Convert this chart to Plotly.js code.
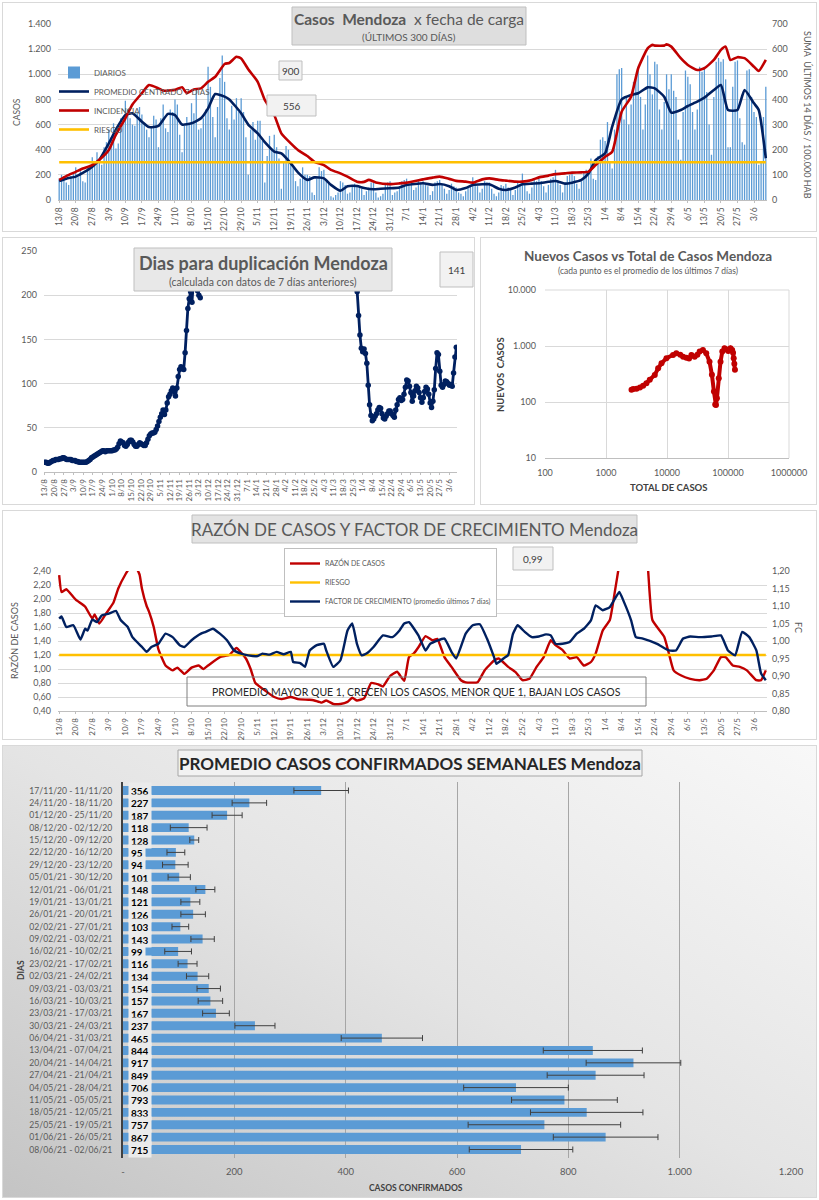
<!DOCTYPE html>
<html><head><meta charset="utf-8">
<script src="https://cdn.plot.ly/plotly-3.0.1.min.js"></script>
<style>
body{margin:0;background:#fff;width:819px;height:1200px;position:relative;overflow:hidden;font-family:Lato,sans-serif}
.bd{position:absolute;box-sizing:border-box;border:1px solid #d9d9d9;}
.pl{position:absolute;}
</style></head><body>
<div class="bd" style="left:2px;top:2px;width:815px;height:230px"></div>
<div class="bd" style="left:2px;top:237px;width:473px;height:268px"></div>
<div class="bd" style="left:480px;top:237px;width:337px;height:268px"></div>
<div class="bd" style="left:2px;top:510px;width:815px;height:230px"></div>
<div class="bd" style="left:2px;top:745px;width:815px;height:453px;background:linear-gradient(to bottom left,#f8f8f8 0%,#e4e4e4 50%,#c4c4c4 100%)"></div>
<div id="c1" class="pl" style="left:2px;top:2px;width:815px;height:230px"></div>
<div id="c2" class="pl" style="left:2px;top:237px;width:473px;height:268px"></div>
<div id="c3" class="pl" style="left:480px;top:237px;width:337px;height:268px"></div>
<div id="c4" class="pl" style="left:2px;top:510px;width:815px;height:230px"></div>
<div id="c5" class="pl" style="left:2px;top:745px;width:815px;height:453px"></div>
<script>
// ---------------- DATA ----------------
const fechasTicks = ['13/8','20/8','27/8','3/9','10/9','17/9','24/9','1/10','8/10','15/10','22/10','29/10','5/11','12/11','19/11','26/11','3/12','10/12','17/12','24/12','31/12','7/1','14/1','21/1','28/1','4/2','11/2','18/2','25/2','4/3','11/3','18/3','25/3','1/4','8/4','15/4','22/4','29/4','6/5','13/5','20/5','27/5','3/6'];

// casos diarios (13/8/2020 .. 8/6/2021)
const diarios = [
170,200,190,140,120,190,210, 260,180,230,150,140,270,250, 340,300,380,310,280,420,460,
560,500,610,410,450,650,620, 790,720,650,600,590,700,740, 680,610,560,500,580,670,640,
420,650,760,570,540,720,700, 800,760,520,380,590,660,600, 770,690,880,560,570,650,720,
1060,900,660,500,740,970,1150, 940,650,560,750,640,810,700, 810,700,500,200,560,620,480,
630,630,470,140,350,510,400, 520,420,330,90,300,430,400, 310,260,150,110,170,260,200,
200,190,60,40,170,260,230, 240,150,130,30,20,40,60, 150,140,120,50,60,110,130,
120,110,90,40,70,100,140, 140,60,20,30,50,120,140, 150,40,60,70,110,150,160,
170,150,120,80,100,160,140, 150,120,110,40,70,140,150, 160,130,90,50,80,130,110,
100,60,50,30,70,100,120, 180,140,110,60,90,150,140, 140,90,50,30,60,120,110,
130,100,80,40,80,140,120, 210,120,70,50,100,160,150, 170,150,110,60,120,170,180,
240,160,120,60,140,190,200, 220,190,130,90,150,230,240, 240,330,170,160,350,480,500,
470,620,300,250,560,1000,1040, 1050,640,820,600,760,940,960, 1060,820,560,760,1150,1000,840,
1100,1080,720,560,780,1000,880, 1000,870,820,480,320,700,1030, 980,920,700,560,720,1060,1020,
1060,860,600,360,820,1100,1130, 1100,1120,960,420,420,900,1100, 1110,650,460,440,1030,1040,820,
700,660,280,300,660,900];

// promedio centrado 7 dias (dia desde 13/8, casos)
const promDia = [0,3,7,10,14,17,21,24,28,31,35,38,42,46,49,52,56,60,63,66,70,72,77,80,84,87,91,94,98,101,105,108,112,115,119,122,126,129,133,136,140,144,147,154,158,161,165,168,172,175,179,182,186,189,193,196,200,203,207,210,214,217,221,224,227,231,234,238,242,245,249,252,256,259,263,266,270,273,277,280,283,287,290,294,296,299];
const promVal = [150,170,186,215,265,320,450,560,676,690,623,580,589,685,676,600,610,650,729,843,822,800,690,600,530,460,385,370,292,220,160,180,172,120,74,110,111,95,85,90,93,100,119,133,120,127,110,80,95,119,125,125,90,80,100,125,130,133,145,151,130,138,160,212,318,371,583,801,835,849,896,888,822,695,716,748,782,814,875,915,716,716,875,769,716,332];

// incidencia: suma ultimos 14 dias / 100.000 hab
const incDia = [0,3,7,10,14,17,21,24,28,31,35,38,42,44,49,52,54,57,60,63,66,70,72,75,77,80,84,87,91,94,98,101,105,108,112,115,119,122,126,129,131,134,140,144,147,154,158,161,165,168,172,175,179,182,186,189,193,196,200,203,207,210,214,217,221,224,227,231,234,238,242,245,249,251,252,256,257,259,263,266,270,273,277,280,282,284,287,290,294,296,299];
const incVal = [80,95,112,125,139,160,199,260,325,380,425,457,444,435,438,448,425,440,444,470,490,541,545,570,563,520,470,398,338,265,225,199,175,152,139,120,106,93,73,72,80,70,63,66,69,82,89,93,84,76,73,69,82,86,80,77,73,73,80,90,97,103,106,109,110,113,139,172,192,351,411,524,603,617,614,614,619,610,564,537,517,524,557,597,610,557,568,564,530,513,557];
const riesgoIncidencia = 150;
const ultimaIncidencia = 556, valor900 = 900;

// dias para duplicacion
const dupInicio1 = 0;
const dupTramo1 = [11,11,10,10,11,12,13, 13,14,14,14,15,15,16, 16,15,14,14,14,14,13, 13,13,12,12,11,11,11,
11,11,11,12,13,14,16, 17,18,19,20,21,22,23, 24,24,23,24,24,24,24, 24,25,25,26,28,32,35,
34,33,30,29,31,34,36, 36,34,31,29,29,31,33, 32,31,30,30,33,37,41, 43,44,44,45,48,52,57,
62,66,70,65,70,78,85, 88,92,95,91,86,95,108, 116,119,117,116,135,160,185, 196,204,192,215,225,215,205, 200,197];
const dupInicio2 = 227;
const dupTramo2 = [204,177,155,140,136,139,134, 123,98,76,64,58,60,63, 66,70,73,72,66,61,60, 63,66,69,69,66,64,62,
70,76,82,84,81,82,88, 96,104,103,97,90,80,86, 92,97,95,90,84,79,84, 91,96,94,88,78,73,80,
93,117,135,133,114,98,96, 99,103,102,100,98,99,97, 112,130,141];
const dupUltimo = 141;

// nuevos casos vs total de casos (promedio 7 dias)
const totalCasos = [2620,2800,3170,3600,4060,4600,5220,6300,7160,8130,9800,12560,14200,16500,18360,20800,23000,25140,28400,31500,34300,38800,44000,49800,54500,58800,61700,63500,65800,70600,75400,80700,87700,95000,101000,110000,117000,121000,124000,127000,130000];
const nuevosCasos = [165,170,172,181,195,217,250,305,400,490,606,693,740,700,645,620,600,693,645,700,800,852,740,525,306,154,90,88,117,265,525,800,914,870,818,914,852,760,606,480,375];

// razon de casos y factor de crecimiento
const razonDia = [0,1,3,7,11,14,15,17,20,23,25,28,30,32,34,35,37,38,40,42,45,48,50,53,56,59,61,63,68,72,75,79,81,83,86,91,94,98,101,106,108,111,113,116,119,122,124,126,129,132,135,137,140,143,146,148,150,152,155,158,160,163,166,170,172,177,180,184,186,190,193,196,199,202,205,208,210,213,216,219,222,225,227,230,233,235,237,239,243,247,249,251,256,258,260,263,267,271,274,277,280,282,285,288,291,295,297,299];
const razonVal = [2.34,2.10,2.14,1.99,1.89,1.72,1.78,1.65,1.80,1.95,2.15,2.35,2.45,2.48,2.35,2.15,1.90,1.82,1.60,1.28,1.05,0.98,1.02,0.93,1.02,1.05,1.00,1.05,1.17,1.20,1.30,1.15,1.00,0.80,0.72,0.60,0.57,0.60,0.57,0.56,0.55,0.52,0.55,0.50,0.50,0.53,0.59,0.55,0.58,0.80,0.78,0.75,0.90,0.96,0.83,1.17,1.22,1.31,1.47,1.41,1.43,1.17,1.03,0.84,0.81,0.81,0.98,1.12,1.15,1.03,0.96,0.84,0.86,1.03,1.17,1.41,1.34,1.27,1.15,1.17,1.05,1.10,1.22,1.55,1.70,2.08,2.50,3.0,3.5,3.0,2.50,1.70,1.46,1.22,0.98,0.91,0.86,0.84,0.86,0.98,1.17,1.17,1.05,1.03,0.98,0.84,0.84,0.98];
const fcDia = [0,1,3,6,9,11,12,14,16,18,21,24,26,29,31,35,37,39,42,45,48,51,53,56,60,62,65,68,71,74,77,80,84,86,89,92,95,98,99,102,104,106,109,112,113,116,119,122,124,126,128,130,133,137,141,144,146,148,152,155,157,163,166,168,172,175,178,181,184,185,188,190,192,194,197,200,203,206,208,210,213,216,219,222,225,227,230,233,237,239,242,244,247,253,258,261,264,267,271,276,280,283,286,289,292,295,297,299];
const fcVal = [1.064,1.07,1.04,1.045,1.004,1.035,1.03,1.061,1.054,1.073,1.078,1.086,1.06,1.04,1.011,0.983,0.969,0.983,0.992,1.021,1.011,0.988,0.983,1.002,1.021,1.026,1.035,1.021,1.002,0.973,0.964,0.959,0.957,0.964,0.961,0.969,0.962,0.969,0.94,0.937,0.926,0.973,0.988,0.992,0.973,0.926,0.945,1.03,1.05,0.992,0.959,0.964,0.983,1.016,1.011,1.03,1.05,1.054,1.016,0.973,0.992,1.007,0.969,0.95,1.021,1.045,1.048,1.007,0.954,0.935,0.95,0.96,1.02,1.045,1.026,1.011,1.013,1.019,1.016,0.992,0.992,0.997,1.021,1.035,1.059,1.102,1.088,1.097,1.14,1.111,1.059,1.011,1.007,0.992,0.973,0.973,1.007,1.013,1.011,1.013,1.016,0.973,0.959,1.026,1.011,0.973,0.907,0.888];
const riesgoRazon = 1.20;
const fcUltimo = '0,99';

// promedio casos confirmados semanales
const semanas = ['17/11/20 - 11/11/20','24/11/20 - 18/11/20','01/12/20 - 25/11/20','08/12/20 - 02/12/20','15/12/20 - 09/12/20','22/12/20 - 16/12/20','29/12/20 - 23/12/20','05/01/21 - 30/12/20','12/01/21 - 06/01/21','19/01/21 - 13/01/21','26/01/21 - 20/01/21','02/02/21 - 27/01/21','09/02/21 - 03/02/21','16/02/21 - 10/02/21','23/02/21 - 17/02/21','02/03/21 - 24/02/21','09/03/21 - 03/03/21','16/03/21 - 10/03/21','23/03/21 - 17/03/21','30/03/21 - 24/03/21','06/04/21 - 31/03/21','13/04/21 - 07/04/21','20/04/21 - 14/04/21','27/04/21 - 21/04/21','04/05/21 - 28/04/21','11/05/21 - 05/05/21','18/05/21 - 12/05/21','25/05/21 - 19/05/21','01/06/21 - 26/05/21','08/06/21 - 02/06/21'];
const promedios = [356,227,187,118,128,95,94,101,148,121,126,103,143,99,116,134,154,157,167,237,465,844,917,849,706,793,833,757,867,715];
const errores = [49,31,27,33,8,16,23,20,17,17,22,15,21,24,17,20,21,22,24,36,73,89,85,87,94,95,101,137,94,93];
const barTickVals = [0,200,400,600,800,1000,1200];
const barTickText = ['-','200','400','600','800','1.000','1.200'];

// ---------------- HELPERS ----------------
const F = 'Lato, "Liberation Sans", sans-serif';
const GRAY = '#595959', GRID = '#d9d9d9';
const NAVY = '#002060', RED = '#c00000', YEL = '#ffc000', BLUE = '#5b9bd5';
function P(left, top, w, h, l, r, t, b){ return {left, top, w, h, l, r, t, b, pw: w-l-r, ph: h-t-b}; }
function px(p, X){ return (X - p.left - p.l)/p.pw; }
function py(p, Y){ return 1 - (Y - p.top - p.t)/p.ph; }
function box(p, x0, y0, x1, y1, fill, line){
  return {type:'rect', xref:'paper', yref:'paper', x0:px(p,x0), x1:px(p,x1), y0:py(p,y1), y1:py(p,y0),
    fillcolor:fill, line:{color:line||'#bfbfbf', width:1}, layer:'above'};
}
function txt(p, X, Y, text, size, color, extra){
  return Object.assign({xref:'paper', yref:'paper', x:px(p,X), y:py(p,Y), text:text, showarrow:false,
    font:{family:F, size:size, color:color||GRAY}, xanchor:'center', yanchor:'middle'}, extra||{});
}
function baseLayout(p){
  return {width:p.w, height:p.h, margin:{l:p.l, r:p.r, t:p.t, b:p.b, pad:0},
    paper_bgcolor:'rgba(0,0,0,0)', plot_bgcolor:'rgba(0,0,0,0)', separators:',.',
    font:{family:F, color:GRAY, size:9}, showlegend:false};
}
const cfg = {staticPlot:true, displayModeBar:false};
const tickVals = fechasTicks.map((_, i) => i*7);
const dias = diarios.map((_, i) => i);
const nDias = diarios.length;
function dateAxis(size){
  return {range:[-0.5, nDias-0.5], tickmode:'array', tickvals:tickVals, ticktext:fechasTicks, tickangle:-90,
    tickfont:{size:size, color:GRAY}, showgrid:false, zeroline:false, showline:true, linecolor:'#bfbfbf',
    ticks:'outside', ticklen:2, tickcolor:'#bfbfbf', ticklabelstandoff:1, fixedrange:true};
}

// ---------------- PANEL 1 ----------------
{
  const p = P(2, 2, 815, 230, 56, 50, 22, 32);
  const traces = [
    {type:'bar', x:dias, y:diarios, name:'DIARIOS', marker:{color:BLUE}, width:0.55},
    {type:'scatter', mode:'lines', x:promDia, y:promVal, name:'PROMEDIO CENTRADO 7 DÍAS', line:{color:NAVY, width:2.6, shape:'spline', smoothing:0.5}},
    {type:'scatter', mode:'lines', x:incDia, y:incVal, yaxis:'y2', name:'INCIDENCIA', line:{color:RED, width:2.6, shape:'spline', smoothing:0.5}},
    {type:'scatter', mode:'lines', x:[0, nDias-1], y:[riesgoIncidencia, riesgoIncidencia], yaxis:'y2', name:'RIESGO', line:{color:YEL, width:2.6}}
  ];
  const L = baseLayout(p);
  L.showlegend = true;
  L.legend = {x:px(p,54), y:py(p,58), xanchor:'left', yanchor:'top', bgcolor:'rgba(0,0,0,0)', font:{size:8, color:GRAY}, itemwidth:30, tracegroupgap:0};
  L.bargap = 0.4;
  L.xaxis = dateAxis(8.5);
  L.yaxis = {range:[0,1400], dtick:200, tickformat:',d', gridcolor:GRID, zeroline:false, tickfont:{size:9, color:GRAY}, ticklabelstandoff:6, fixedrange:true};
  L.yaxis2 = {range:[0,700], dtick:100, overlaying:'y', side:'right', showgrid:false, zeroline:false, tickfont:{size:9, color:GRAY}, ticklabelstandoff:4, fixedrange:true};
  L.shapes = [
    box(p, 292, 7, 526, 45, '#dedede'),
    box(p, 279, 61, 302, 80, '#f2f2f2'),
    box(p, 267, 95, 316, 116, '#f2f2f2')
  ];
  L.annotations = [
    txt(p, 409, 19, '<b>Casos  Mendoza</b>  x fecha de carga', 15.5, GRAY),
    txt(p, 409, 37, '(ÚLTIMOS 300 DÍAS)', 10, GRAY),
    txt(p, 290.5, 70.5, String(valor900), 10, '#404040'),
    txt(p, 291.5, 105.5, String(ultimaIncidencia), 10, '#404040'),
    txt(p, 17, 112, 'CASOS', 8.5, GRAY, {textangle:-90}),
    txt(p, 808, 115, 'SUMA  ÚLTIMOS 14 DÍAS / 100.000 HAB', 9, GRAY, {textangle:90})
  ];
  Plotly.newPlot('c1', traces, L, cfg);
}

// ---------------- PANEL 2 ----------------
{
  const p = P(2, 237, 473, 268, 42, 18, 14, 33);
  const st = {type:'scatter', mode:'lines+markers', line:{color:NAVY, width:2.8}, marker:{color:NAVY, size:5.5}};
  const traces = [
    Object.assign({}, st, {x:dupTramo1.map((_, i) => dupInicio1 + i), y:dupTramo1}),
    Object.assign({}, st, {x:dupTramo2.map((_, i) => dupInicio2 + i), y:dupTramo2})
  ];
  const L = baseLayout(p);
  L.xaxis = dateAxis(8);
  L.yaxis = {range:[0,250], dtick:50, gridcolor:GRID, zeroline:false, tickfont:{size:9, color:GRAY}, ticklabelstandoff:6, fixedrange:true};
  L.shapes = [
    box(p, 134, 248, 392, 291, '#e8e8e8'),
    box(p, 440, 252, 473, 287, '#f2f2f2')
  ];
  L.annotations = [
    txt(p, 263, 263, '<b>Dias para duplicación Mendoza</b>', 18, GRAY),
    txt(p, 263, 282, '(calculada con datos de 7 días anteriores)', 10.5, GRAY),
    txt(p, 456.5, 269.5, String(dupUltimo), 10, '#404040')
  ];
  Plotly.newPlot('c2', traces, L, cfg);
}

// ---------------- PANEL 3 ----------------
{
  const p = P(480, 237, 337, 268, 65, 28, 53, 47);
  const traces = [
    {type:'scatter', mode:'lines+markers', x:totalCasos, y:nuevosCasos, line:{color:RED, width:4}, marker:{color:RED, size:6}}
  ];
  const L = baseLayout(p);
  L.xaxis = {type:'log', range:[2,6], dtick:1, tickformat:'d', gridcolor:GRID, zeroline:false, showline:true, linecolor:'#bfbfbf', tickfont:{size:9, color:GRAY}, ticklabelstandoff:6, fixedrange:true};
  L.yaxis = {type:'log', range:[1,4], dtick:1, tickformat:',d', gridcolor:GRID, zeroline:false, tickfont:{size:9, color:GRAY}, ticklabelstandoff:8, fixedrange:true};
  L.shapes = [
    {type:'line', xref:'paper', yref:'paper', x0:1, x1:1, y0:0, y1:1, line:{color:GRID, width:1}},
    {type:'line', xref:'paper', yref:'paper', x0:0, x1:1, y0:1, y1:1, line:{color:GRID, width:1}}
  ];
  L.annotations = [
    txt(p, 648, 256, '<b>Nuevos Casos vs Total de Casos Mendoza</b>', 13.5, GRAY),
    txt(p, 648, 271, '(cada punto es el promedio de los últimos 7 días)', 8.5, GRAY),
    txt(p, 500, 375, '<b>NUEVOS  CASOS</b>', 9.5, '#404040', {textangle:-90}),
    txt(p, 668, 487, '<b>TOTAL DE CASOS</b>', 9.5, '#404040')
  ];
  Plotly.newPlot('c3', traces, L, cfg);
}

// ---------------- PANEL 4 ----------------
{
  const p = P(2, 510, 815, 230, 56, 50, 61, 29);
  const traces = [
    {type:'scatter', mode:'lines', x:razonDia, y:razonVal, name:'RAZÓN DE CASOS', line:{color:RED, width:2.4, shape:'spline', smoothing:0.4}},
    {type:'scatter', mode:'lines', x:[0, nDias-1], y:[riesgoRazon, riesgoRazon], name:'RIESGO', line:{color:YEL, width:2.4}},
    {type:'scatter', mode:'lines', x:fcDia, y:fcVal, yaxis:'y2', name:'FACTOR DE CRECIMIENTO (promedio últimos 7 días)', line:{color:NAVY, width:2.4, shape:'spline', smoothing:0.4}}
  ];
  const L = baseLayout(p);
  L.showlegend = true;
  L.legend = {x:px(p,284), y:py(p,548), xanchor:'left', yanchor:'top', bgcolor:'#ffffff', bordercolor:'#bfbfbf', borderwidth:1, font:{size:7, color:GRAY}, itemwidth:30};
  L.xaxis = dateAxis(8);
  L.yaxis = {range:[0.4,2.4], dtick:0.2, tickformat:'.2f', gridcolor:GRID, zeroline:false, tickfont:{size:9, color:GRAY}, ticklabelstandoff:6, fixedrange:true};
  L.yaxis2 = {range:[0.8,1.2], dtick:0.05, tickformat:'.2f', overlaying:'y', side:'right', showgrid:false, zeroline:false, tickfont:{size:9, color:GRAY}, ticklabelstandoff:4, fixedrange:true};
  L.shapes = [
    box(p, 192, 515, 637, 543, '#e3e3e3'),
    box(p, 513, 547, 553, 570, '#f2f2f2'),
    box(p, 187, 677, 646, 706, 'rgba(0,0,0,0)', '#7f7f7f')
  ];
  L.annotations = [
    txt(p, 414, 530, 'RAZÓN DE CASOS Y FACTOR DE CRECIMIENTO Mendoza', 17, GRAY),
    txt(p, 533, 558.5, fcUltimo, 10, '#404040'),
    txt(p, 416, 691.5, 'PROMEDIO MAYOR QUE 1, CRECEN LOS CASOS, MENOR QUE 1, BAJAN LOS CASOS', 10.5, '#262626'),
    txt(p, 14, 641, 'RAZÓN DE CASOS', 9, GRAY, {textangle:-90}),
    txt(p, 799, 627, 'FC', 9, GRAY, {textangle:90})
  ];
  Plotly.newPlot('c4', traces, L, cfg);
}

// ---------------- PANEL 5 ----------------
{
  const p = P(2, 745, 815, 453, 121, 26, 37, 40);
  const traces = [
    {type:'bar', orientation:'h', x:promedios, y:semanas, marker:{color:BLUE}, width:0.72,
     error_x:{type:'data', array:errores, visible:true, color:'#404040', thickness:1, width:3}}
  ];
  const L = baseLayout(p);
  L.xaxis = {range:[0,1200], tickmode:'array', tickvals:barTickVals, ticktext:barTickText, gridcolor:'#a6a6a6', zeroline:false, showline:false, tickfont:{size:9.5, color:GRAY}, ticklabelstandoff:6, fixedrange:true};
  L.yaxis = {type:'category', categoryorder:'array', categoryarray:semanas, autorange:'reversed', showgrid:false, zeroline:false,
    showline:true, linecolor:'#404040', linewidth:2, tickfont:{size:8.6, color:GRAY}, ticklabelstandoff:7, fixedrange:true};
  L.shapes = [ box(p, 178, 750, 642, 776, '#f2f2f2', '#a6a6a6') ];
  L.annotations = [
    txt(p, 410, 763, '<b>PROMEDIO CASOS CONFIRMADOS SEMANALES Mendoza</b>', 17, '#262626'),
    txt(p, 21, 970, '<b>DIAS</b>', 8.5, '#404040', {textangle:-90}),
    txt(p, 416, 1188, '<b>CASOS CONFIRMADOS</b>', 8.5, '#404040')
  ].concat(promedios.map((v, i) => ({
    xref:'x', yref:'y', x:0, y:semanas[i], text:'<b>' + v + '</b>', showarrow:false, xanchor:'left', yanchor:'middle',
    xshift:5, bgcolor:'#ebebeb', borderpad:2, height:11, font:{family:F, size:10, color:'#000000'}
  })));
  Plotly.newPlot('c5', traces, L, cfg);
}
</script>
</body></html>
